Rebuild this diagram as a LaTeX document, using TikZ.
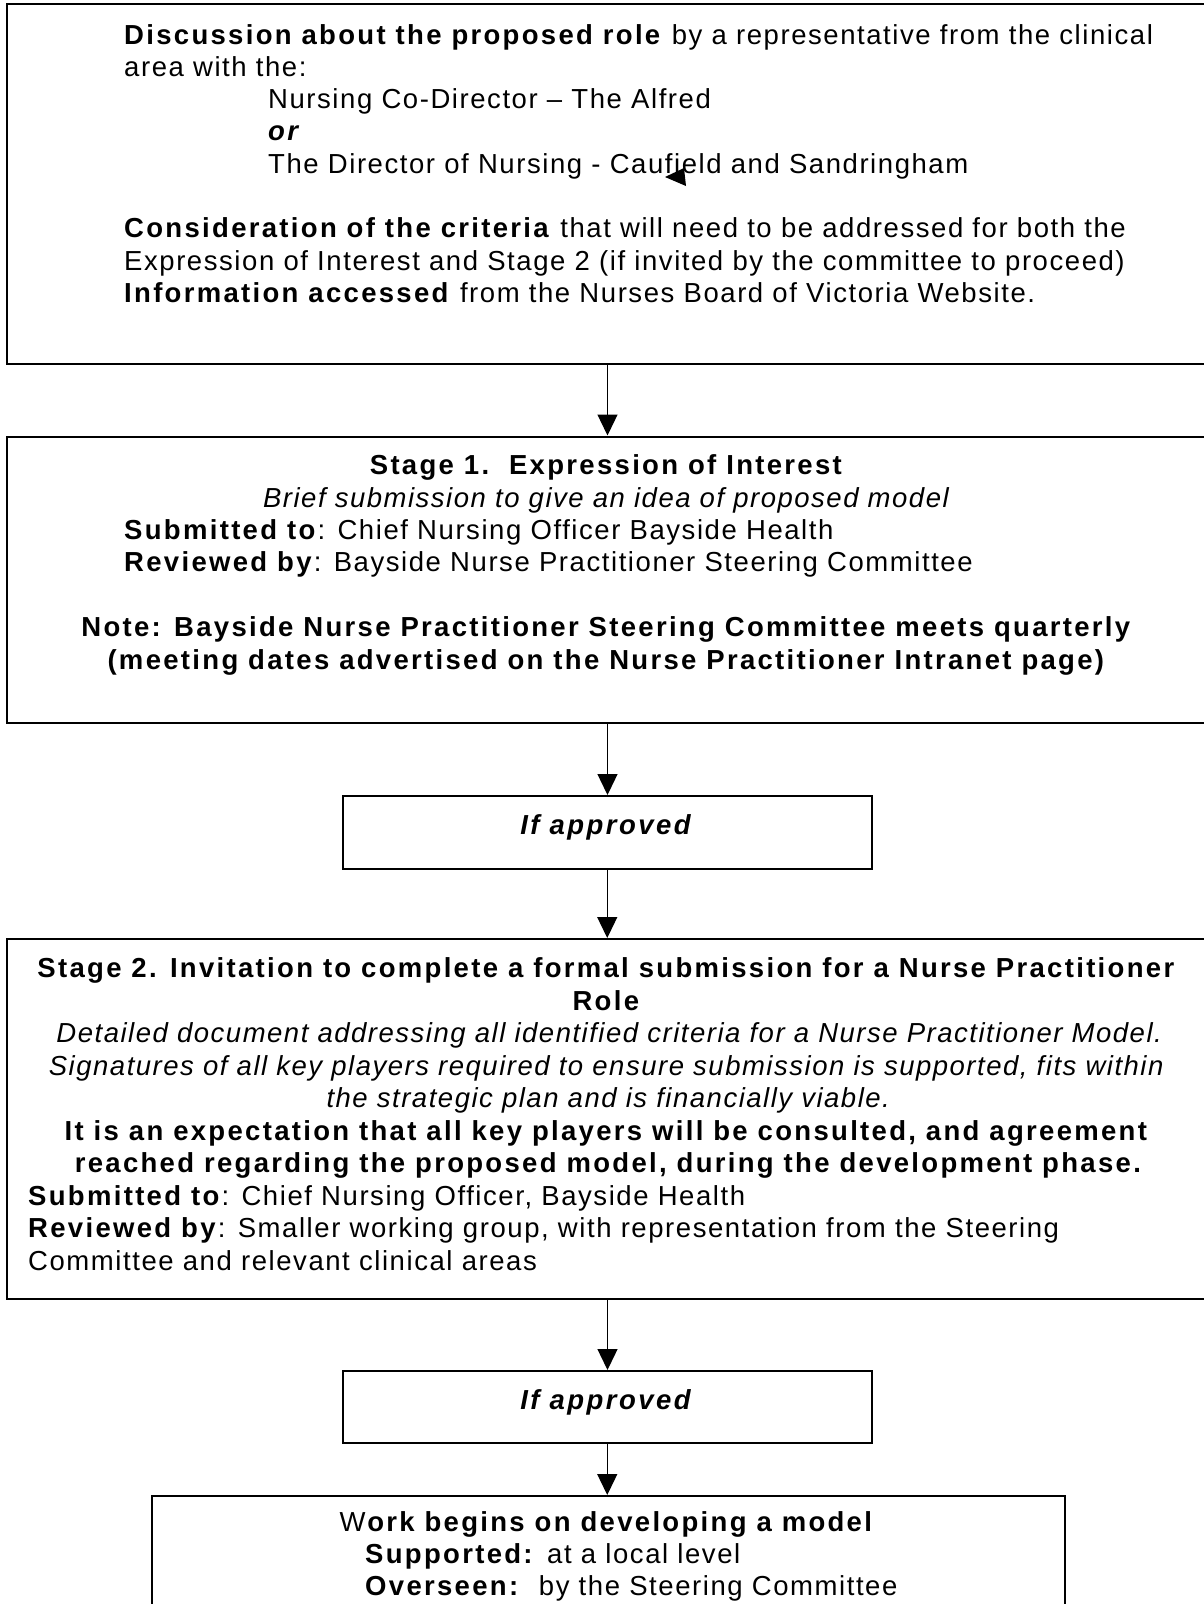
\documentclass[tikz,border=0pt]{standalone}
\usepackage{fontspec}
\setmainfont{Liberation Sans}[LetterSpace=5.7,ItalicFeatures={LetterSpace=5.5},BoldFeatures={LetterSpace=8.4},BoldItalicFeatures={LetterSpace=9}]
\usetikzlibrary{arrows.meta}
\begin{document}
\begin{tikzpicture}[x=1pt,y=-1pt,
  box/.style={draw=black, line width=2pt, inner sep=0pt},
  arr/.style={draw=black, line width=1.3pt, -{Triangle[length=21pt,width=20pt]}},
  txt/.style={inner sep=0pt, font=\fontsize{27.5}{32}\selectfont},
  lt/.style={txt, anchor=base west},
  ct/.style={txt, anchor=base}]
\useasboundingbox (0,0) rectangle (1204,1604);
\clip (0,0) rectangle (1204,1604);
% boxes
\node[box, minimum width=1201pt, minimum height=360pt] (b1) at (607.5,184) {};
\node[box, minimum width=1201pt, minimum height=286.5pt] (b2) at (607.5,579.75) {};
\node[box, minimum width=528.5pt, minimum height=72.5pt] (if1) at (607.25,832.25) {};
\node[box, minimum width=1201pt, minimum height=360pt] (b3) at (607.5,1119) {};
\node[box, minimum width=528.5pt, minimum height=72pt] (if2) at (607.25,1407) {};
\node[box, minimum width=913pt, minimum height=144pt] (b4) at (608.5,1568) {};
% connectors
\draw[arr] (b1.south) -- (b1.south |- b2.north);
\draw[arr] (b2.south) -- (b2.south |- if1.north);
\draw[arr] (if1.south) -- (if1.south |- b3.north);
\draw[arr] (b3.south) -- (b3.south |- if2.north);
\draw[arr] (if2.south) -- (if2.south |- b4.north);
% box 1 text
\node[lt] (t11) at (124,44) {\textbf{Discussion about the proposed role} by a representative from the clinical};
\node[lt] (t12) at (124,76) {area with the:};
\node[lt] (t13) at (268,108) {Nursing Co-Director – The Alfred};
\node[lt] (t14) at (268,140.5) {\textbf{\textit{or}}};
\node[lt] (t15) at (268,173) {The Director of Nursing - Caufield and Sandringham};
\fill[black] (665,177) -- (684,168) -- (686,186) -- cycle;
\node[lt] (t16) at (124,237.5) {\textbf{Consideration of the criteria} that will need to be addressed for both the};
\node[lt] (t17) at (124,270) {Expression of Interest and Stage 2 (if invited by the committee to proceed)};
\node[lt] (t18) at (124,302.5) {\textbf{Information accessed} from the Nurses Board of Victoria Website.};
% box 2 text
\node[ct] (t21) at (607,474.5) {\textbf{Stage 1.\ \ Expression of Interest}};
\node[ct] (t22) at (607,507) {\textit{Brief submission to give an idea of proposed model}};
\node[lt] (t23) at (124,539) {\textbf{Submitted to}: Chief Nursing Officer Bayside Health};
\node[lt] (t24) at (124,571.5) {\textbf{Reviewed by}: Bayside Nurse Practitioner Steering Committee};
\node[ct] (t25) at (607,636.5) {\textbf{Note: Bayside Nurse Practitioner Steering Committee meets quarterly}};
\node[ct] (t26) at (607,669) {\textbf{(meeting dates advertised on the Nurse Practitioner Intranet page)}};
% if approved 1
\node[ct] (t31) at (607,834.5) {\textbf{\textit{If approved}}};
% box 3 text
\node[ct] (t41) at (607,977.6) {\textbf{Stage 2. Invitation to complete a formal submission for a Nurse Practitioner}};
\node[ct] (t42) at (607,1010.1) {\textbf{Role}};
\node[ct] (t43) at (610,1042.6) {\textit{Detailed document addressing all identified criteria for a Nurse Practitioner Model.}};
\node[ct] (t44) at (607,1075.1) {\textit{Signatures of all key players required to ensure submission is supported, fits within}};
\node[ct] (t45) at (609,1107.6) {\textit{the strategic plan and is financially viable.}};
\node[ct] (t46) at (607,1140.1) {\textbf{It is an expectation that all key players will be consulted, and agreement}};
\node[ct] (t47) at (609,1172.6) {\textbf{reached regarding the proposed model, during the development phase.}};
\node[lt] (t48) at (28,1205.1) {\textbf{Submitted to}: Chief Nursing Officer, Bayside Health};
\node[lt] (t49) at (28,1237.6) {\textbf{Reviewed by}: Smaller working group, with representation from the Steering};
\node[lt] (t410) at (28,1270.1) {Committee and relevant clinical areas};
% if approved 2
\node[ct] (t51) at (607,1409.5) {\textbf{\textit{If approved}}};
% box 4 text
\node[ct] (t61) at (607,1531) {W\textbf{ork begins on developing a model}};
\node[lt] (t62) at (365,1563) {\textbf{Supported:} at a local level};
\node[lt] (t63) at (365,1595) {\textbf{Overseen:}\ \ by the Steering Committee};
\end{tikzpicture}
\end{document}
